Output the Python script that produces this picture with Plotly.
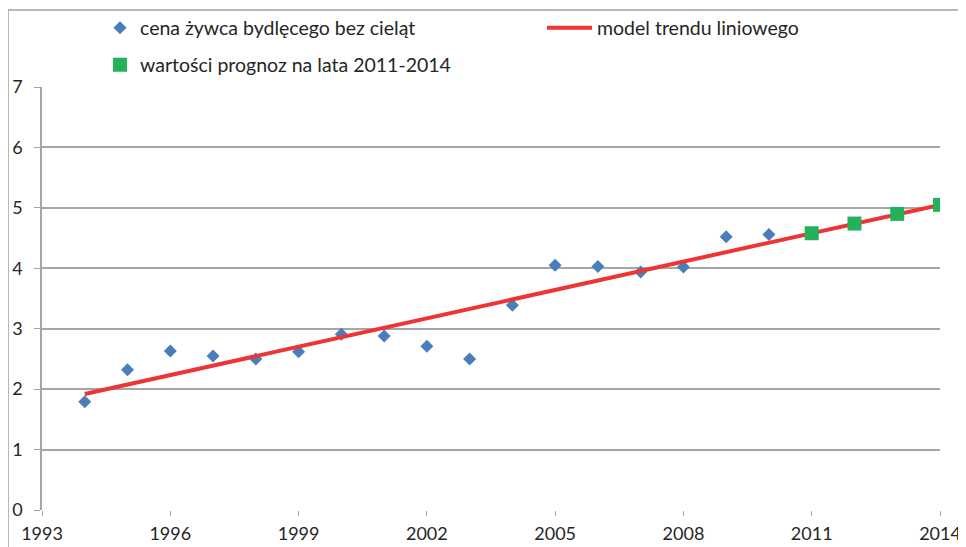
import plotly.graph_objects as go

# cena żywca bydlęcego bez cieląt (observed)
years = list(range(1994, 2011))
price = [1.79, 2.32, 2.63, 2.55, 2.50, 2.62, 2.91, 2.88, 2.71, 2.50,
         3.39, 4.05, 4.03, 3.94, 4.02, 4.52, 4.56]

# forecast values 2011-2014
forecast_years = [2011, 2012, 2013, 2014]
forecast = [4.58, 4.74, 4.90, 5.05]

# linear trend model (end points)
trend_years = [1994, 2014]
trend = [1.92, 5.05]

x_ticks = [1993, 1996, 1999, 2002, 2005, 2008, 2011, 2014]
y_ticks = [0, 1, 2, 3, 4, 5, 6, 7]

FONT = "Lato"
TXT = "#262626"
GRID = "#a6a6a6"

# the html body adds an 8px margin, so the figure is shifted by that much
OFF = 8
FIG_W, FIG_H = 966 - OFF, 547 - OFF

# plot area in page pixels: x 42..940, y 87..510
L, R, T, B = 42 - OFF, 940 - OFF, 87 - OFF, 510 - OFF
W, H = R - L, B - T


def px(x):
    return (x - OFF - L) / W


def py(y):
    return (B - (y - OFF)) / H


fig = go.Figure()

fig.add_trace(go.Scatter(
    x=years, y=price, mode="markers",
    name="cena żywca bydlęcego bez cieląt",
    marker=dict(symbol="diamond", size=10, color="#4a7ebb"),
    legend="legend",
))
fig.add_trace(go.Scatter(
    x=trend_years, y=trend, mode="lines",
    name="model trendu liniowego",
    line=dict(color="#ee3434", width=4),
    legend="legend3",
))
fig.add_trace(go.Scatter(
    x=forecast_years, y=forecast, mode="markers",
    name="wartości prognoz na lata 2011-2014",
    marker=dict(symbol="square", size=14, color="#23b25a"),
    legend="legend2",
))

leg = dict(orientation="h", xanchor="left", yanchor="middle",
           font=dict(family=FONT, size=19.5, color=TXT),
           bgcolor="rgba(0,0,0,0)")

fig.update_layout(
    width=FIG_W, height=FIG_H,
    margin=dict(l=L, r=FIG_W - R, t=T, b=FIG_H - B, autoexpand=False),
    paper_bgcolor="white", plot_bgcolor="white",
    font=dict(family=FONT, size=18, color=TXT),
    showlegend=True,
    legend=dict(leg, x=px(100), y=py(28)),
    legend2=dict(leg, x=px(100), y=py(65)),
    legend3=dict(leg, x=px(542), y=py(28), itemwidth=45),
    xaxis=dict(
        range=[1993, 2014], tickvals=x_ticks, showgrid=False, zeroline=False,
        showline=False, ticks="outside", ticklen=5, tickcolor=GRID,
        tickfont=dict(size=18, color=TXT), ticklabelstandoff=2,
        automargin=False,
    ),
    yaxis=dict(
        range=[0, 7], tickvals=y_ticks, showgrid=True, gridcolor=GRID,
        gridwidth=1.5, zeroline=False, showline=True, linecolor=GRID,
        linewidth=1.5, ticks="outside", ticklen=6, tickcolor=GRID,
        tickfont=dict(size=18, color=TXT), ticklabelstandoff=8,
        automargin=False,
    ),
    shapes=[
        # outer chart frame
        dict(type="rect", xref="paper", yref="paper",
             x0=px(8), x1=px(990), y0=py(580), y1=py(10),
             line=dict(color="#a0a0a0", width=1.5), layer="below"),
    ],
)

fig.write_html("out.html")
